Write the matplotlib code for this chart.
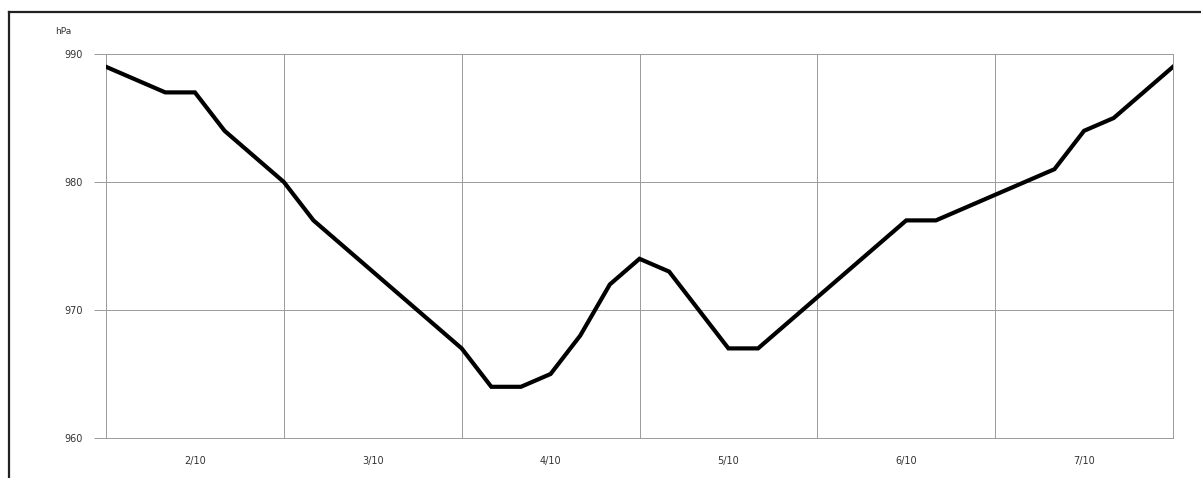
import matplotlib
matplotlib.use("Agg")
import matplotlib.pyplot as plt
from matplotlib.lines import Line2D

# 4-hourly pressure readings (hPa)
pressure = [989, 988, 987, 987, 984, 982, 980, 977, 975, 973, 971, 969, 967,
            964, 964, 965, 968, 972, 974, 973, 970, 967, 967, 969, 971, 973,
            975, 977, 977, 978, 979, 980, 981, 984, 985, 987, 989]
steps_per_day = 6
day_labels = ["2/10", "3/10", "4/10", "5/10", "6/10", "7/10"]
y_ticks = [960, 970, 980, 990]
unit = "hPa"

W, H = 1201, 478
fig = plt.figure(figsize=(W / 100, H / 100), dpi=100)
ax = fig.add_axes([106 / W, 1 - 438 / H, (1173 - 106) / W, (438 - 54) / H])

x = list(range(len(pressure)))
ax.plot(x, pressure, color="black", lw=3.0, solid_joinstyle="miter", zorder=3)

n_days = len(day_labels)
ax.set_xlim(0, n_days * steps_per_day)
ax.set_ylim(y_ticks[0], y_ticks[-1])
ax.set_xticks([i * steps_per_day for i in range(n_days + 1)])
ax.set_xticklabels([])
ax.set_xticks([i * steps_per_day + steps_per_day / 2 for i in range(n_days)], minor=True)
ax.set_xticklabels(day_labels, minor=True)
ax.set_yticks(y_ticks)
ax.set_yticklabels([str(v) for v in y_ticks])

gcol = "#9a9a9a"
ax.grid(True, which="major", color=gcol, lw=0.7)
for gl in ax.get_xgridlines() + ax.get_ygridlines():
    gl.set_clip_on(False)
for s in ax.spines.values():
    s.set_visible(False)
ax.tick_params(axis="x", which="both", length=0, labelsize=7, pad=13, colors="#333333")
ax.tick_params(axis="y", length=9, width=0.7, color=gcol, labelsize=7, pad=8,
               labelcolor="#333333")

fig.text(55 / W, 1 - 32 / H, unit, fontsize=6.5, color="#333333", va="center", ha="left")

# outer frame of the scanned page
fig.add_artist(Line2D([9 / W, 1.0], [1 - 12 / H, 1 - 12 / H], transform=fig.transFigure,
                      color="#222222", lw=1.6))
fig.add_artist(Line2D([9 / W, 9 / W], [1 - 12 / H, 0.0], transform=fig.transFigure,
                      color="#222222", lw=1.6))

fig.savefig("out.png", dpi=100, facecolor="white")
